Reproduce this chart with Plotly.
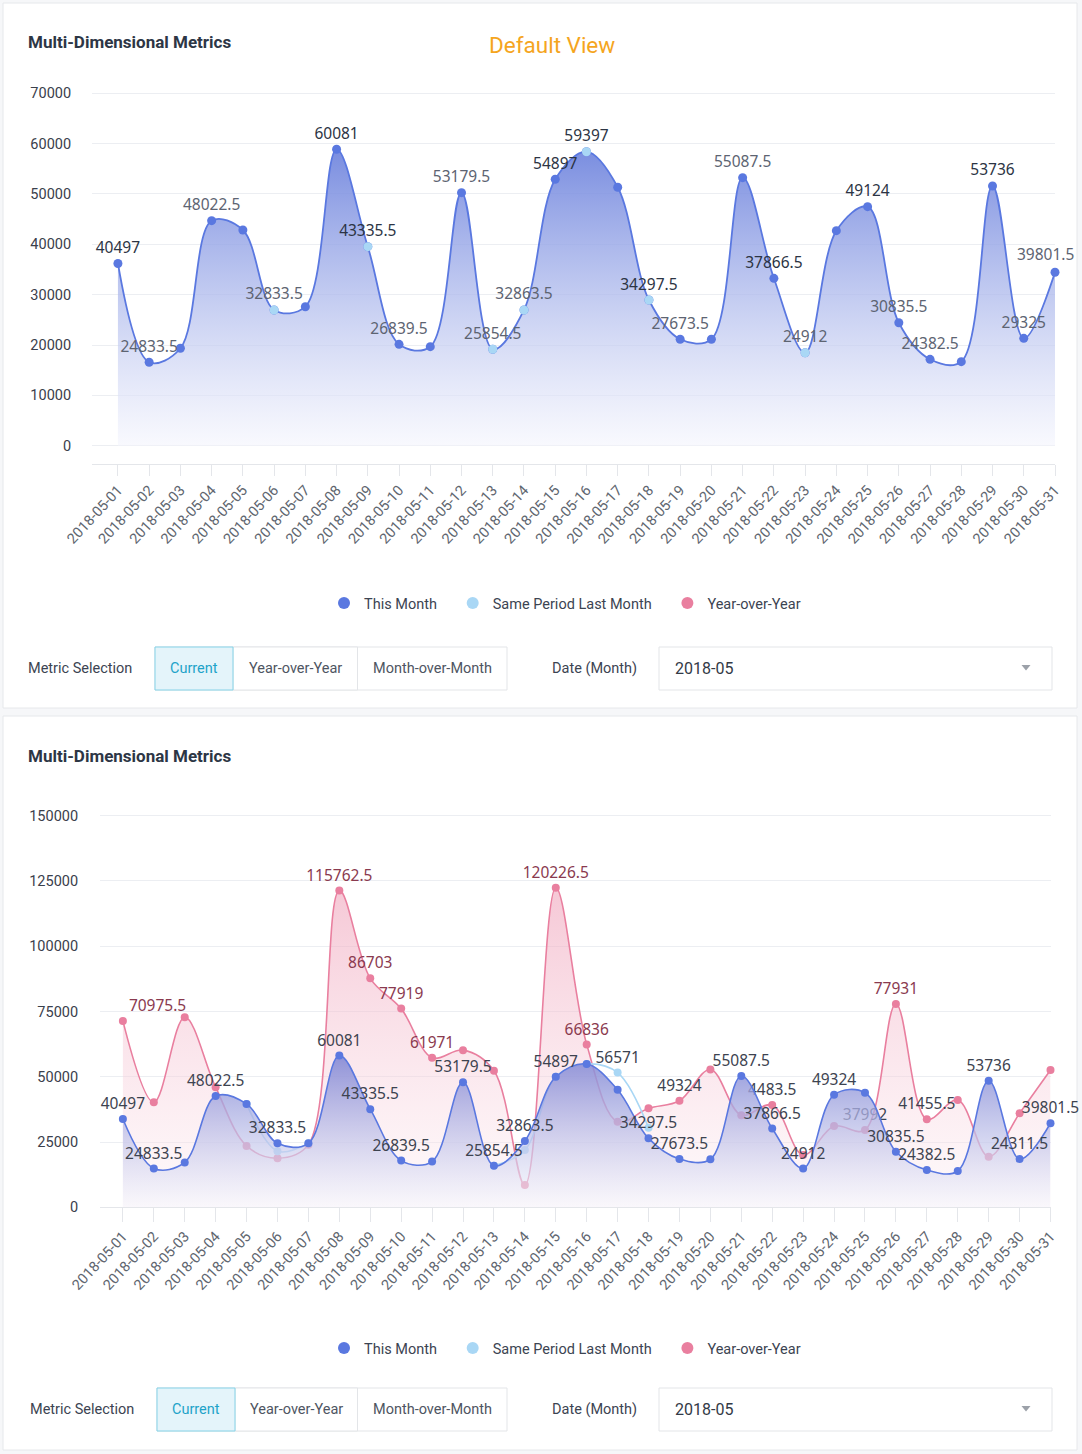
import plotly.graph_objects as go

W, H = 1082, 1454


def px(x):
    return x / W


def py(y):
    return 1 - y / H


dates = [
    "2018-05-01", "2018-05-02", "2018-05-03", "2018-05-04", "2018-05-05", "2018-05-06",
    "2018-05-07", "2018-05-08", "2018-05-09", "2018-05-10", "2018-05-11", "2018-05-12",
    "2018-05-13", "2018-05-14", "2018-05-15", "2018-05-16", "2018-05-17", "2018-05-18",
    "2018-05-19", "2018-05-20", "2018-05-21", "2018-05-22", "2018-05-23", "2018-05-24",
    "2018-05-25", "2018-05-26", "2018-05-27", "2018-05-28", "2018-05-29", "2018-05-30",
    "2018-05-31",
]

# --- Default view (top card) ---
this_month_top = [
    36200, 16570, 19350, 44700, 42850, 26960, 27610, 58880, 39530, 20140, 19670,
    50260, 19150, 26960, 52920, 58400, 51330, 28940, 21140, 21140, 53240, 33250,
    18470, 42710, 47480, 24430, 17160, 16690, 51590, 21330, 34450,
]
last_month_top = [
    None, None, None, None, None, 26960, None, None, 39530, None, None,
    None, 19150, 26960, None, 58400, None, 28940, None, None, None, None,
    18470, None, None, None, None, None, None, None, None,
]
labels_top = [
    "40497", "24833.5", "", "48022.5", "", "32833.5", "", "60081", "43335.5", "26839.5", "",
    "53179.5", "25854.5", "32863.5", "54897", "59397", "", "34297.5", "27673.5", "", "55087.5", "37866.5",
    "24912", "", "49124", "30835.5", "24382.5", "", "53736", "29325", "39801.5",
]

# --- Comparison view (bottom card) ---
this_month_bot = [
    33800, 14900, 17200, 42600, 39600, 24500, 24500, 58100, 37600, 17900, 17500,
    47900, 15900, 25400, 50000, 54900, 45000, 26400, 18500, 18400, 50300, 30200,
    14900, 43100, 43900, 21300, 14300, 13900, 48500, 18500, 32200,
]
last_month_bot = [
    None, None, None, None, 39600, 21500, 24500, None, None, None, None,
    None, 15900, 21900, 50000, 54900, 51600, 30500, None, None, None, None,
    None, None, None, None, None, None, None, None, None,
]
yoy_bot = [
    71400, 40200, 72800, 46000, 23500, 18800, 24000, 121300, 87700, 76100, 57300,
    60200, 52300, 8500, 122400, 62400, 32800, 37900, 40800, 52800, 35300, 39200,
    20000, 31100, 29600, 77900, 33700, 41100, 19400, 36000, 52600,
]
labels_bot = [
    "40497", "24833.5", "", "48022.5", "", "32833.5", "", "60081", "43335.5", "26839.5", "",
    "53179.5", "25854.5", "32863.5", "54897", "", "", "34297.5", "27673.5", "", "55087.5", "37866.5",
    "24912", "49324", "", "30835.5", "24382.5", "", "53736", "24311.5", "39801.5",
]
labels_last_bot = [
    "", "", "", "", "", "", "", "", "", "", "",
    "", "", "", "", "", "56571", "", "", "", "", "",
    "", "", "", "", "", "", "", "", "",
]
labels_yoy_bot = [
    "70975.5", "", "", "", "", "", "", "115762.5", "86703", "77919", "61971",
    "", "", "", "120226.5", "66836", "", "", "49324", "", "", "4483.5",
    "", "", "37992", "77931", "41455.5", "", "", "", "",
]
series_names = ["This Month", "Same Period Last Month", "Year-over-Year"]

BLUE = "#5a78e0"
LIGHT = "#a9d7f5"
PINK = "#e97f9f"
DARK_TXT = "#2c3444"
GREY_TXT = "#5d6472"
UI_FONT = "Roboto"
NUM_FONT = "Noto Sans"

strong_top = {"40497", "60081", "43335.5", "54897", "59397", "34297.5", "37866.5", "49124", "53736"}
red_yoy = {"70975.5", "115762.5", "120226.5", "66836", "77931", "86703", "77919", "61971"}

fig = go.Figure()

# top card traces (last label is drawn as an annotation so it is nudged inside the page)
fig.add_trace(go.Scatter(
    x=dates, y=this_month_top, mode="lines+markers+text", name=series_names[0],
    line=dict(color=BLUE, width=1.8, shape="spline", smoothing=1),
    marker=dict(color=BLUE, size=9),
    fill="tozeroy",
    fillgradient=dict(type="vertical", start=0, stop=60000,
                      colorscale=[[0, "rgba(244,245,253,0.6)"], [1, "rgba(106,128,220,0.92)"]]),
    text=labels_top[:-1] + [""], textposition="top center",
    textfont=dict(family=NUM_FONT, size=15.5,
                  color=[DARK_TXT if t in strong_top else GREY_TXT for t in labels_top]),
    showlegend=False, xaxis="x", yaxis="y", cliponaxis=False,
))
fig.add_trace(go.Scatter(
    x=dates, y=last_month_top, mode="markers", name=series_names[1],
    marker=dict(color=LIGHT, size=9), showlegend=False, xaxis="x", yaxis="y",
))

# bottom card traces
fig.add_trace(go.Scatter(
    x=dates, y=yoy_bot, mode="lines+markers+text", name=series_names[2],
    line=dict(color=PINK, width=1.6, shape="spline", smoothing=1),
    marker=dict(color=PINK, size=8),
    fill="tozeroy",
    fillgradient=dict(type="vertical", start=0, stop=120000,
                      colorscale=[[0, "rgba(252,238,242,0.35)"], [1, "rgba(240,165,188,0.6)"]]),
    text=labels_yoy_bot,
    textposition=["top right"] + ["top center"] * 30,
    textfont=dict(family=NUM_FONT, size=15.5,
                  color=["#8a3a4f" if t in red_yoy else "#3d4350" for t in labels_yoy_bot]),
    showlegend=False, xaxis="x2", yaxis="y2", cliponaxis=False,
))
fig.add_trace(go.Scatter(
    x=dates, y=last_month_bot, mode="lines+markers+text", name=series_names[1],
    line=dict(color=LIGHT, width=1.6, shape="spline", smoothing=1),
    marker=dict(color=LIGHT, size=8),
    text=labels_last_bot, textposition="top center",
    textfont=dict(family=NUM_FONT, size=15.5, color="#3d4350"),
    connectgaps=False, showlegend=False, xaxis="x2", yaxis="y2", cliponaxis=False,
))
fig.add_trace(go.Scatter(
    x=dates, y=this_month_bot, mode="lines+markers+text", name=series_names[0],
    line=dict(color=BLUE, width=1.6, shape="spline", smoothing=1),
    marker=dict(color=BLUE, size=8),
    fill="tozeroy",
    fillgradient=dict(type="vertical", start=0, stop=58000,
                      colorscale=[[0, "rgba(246,246,252,0.55)"], [1, "rgba(128,134,212,0.88)"]]),
    text=labels_bot, textposition="top center",
    textfont=dict(family=NUM_FONT, size=15.5, color="#3d4350"),
    showlegend=False, xaxis="x2", yaxis="y2", cliponaxis=False,
))

# legend-only entries (round dots like the original); trailing nbsp widens the gaps
pad = "\u00a0" * 3
for leg, xa, ya in (("legend", "x", "y"), ("legend2", "x2", "y2")):
    for i, (name, col) in enumerate(zip(series_names, (BLUE, LIGHT, PINK))):
        fig.add_trace(go.Scatter(
            x=[None], y=[None], mode="markers", name=name + (pad if i < 2 else ""),
            marker=dict(color=col, size=12), legend=leg, xaxis=xa, yaxis=ya,
        ))

# axis geometry (pixel -> domain)
top_scale = (445.7 - 93.3) / 70000
top_ymin = -(464 - 445.7) / top_scale
top_ymax = 70300
bot_scale = (1207.3 - 815.7) / 150000
bot_ymax = 151500

axis_x = dict(
    type="category", showgrid=False, showline=True, linecolor="#e4e6ea", linewidth=1,
    ticks="outside", tickcolor="#e4e6ea", tickangle=-47,
    tickfont=dict(family=UI_FONT, size=14.5, color="#60666f"), zeroline=False,
    fixedrange=True,
)
axis_y = dict(
    showgrid=True, gridcolor="#eceef2", gridwidth=1, zeroline=False, showline=False,
    tickformat="d", ticks="outside", tickcolor="rgba(0,0,0,0)",
    tickfont=dict(family=UI_FONT, size=14.5, color="#3a404c"), fixedrange=True,
)

fig.update_layout(
    width=W, height=H,
    margin=dict(l=0, r=0, t=0, b=0, autoexpand=False),
    paper_bgcolor="#f6f7f9", plot_bgcolor="rgba(0,0,0,0)",
    font=dict(family=UI_FONT, color="#3c4452"),
    xaxis=dict(axis_x, domain=[px(92), px(1055)], range=[-0.83, 30], anchor="y", ticklen=11),
    yaxis=dict(axis_y, domain=[py(464), py(445.7 - top_ymax * top_scale)],
               range=[top_ymin, top_ymax], tick0=0, dtick=10000, anchor="x", ticklen=17),
    xaxis2=dict(axis_x, domain=[px(100), px(1050.5)], range=[-0.74, 30], anchor="y2", ticklen=14),
    yaxis2=dict(axis_y, domain=[py(1207.3), py(1207.3 - bot_ymax * bot_scale)],
                range=[0, bot_ymax], tick0=0, dtick=25000, anchor="x2", ticklen=18),
    legend=dict(orientation="h", x=px(565), xanchor="center", y=py(603), yanchor="middle",
                font=dict(family=UI_FONT, size=14.5, color="#3c4452"), itemwidth=30,
                bgcolor="rgba(0,0,0,0)"),
    legend2=dict(orientation="h", x=px(565), xanchor="center", y=py(1348), yanchor="middle",
                 font=dict(family=UI_FONT, size=14.5, color="#3c4452"), itemwidth=30,
                 bgcolor="rgba(0,0,0,0)"),
)

shapes = []
annos = []


def rect(x0, y0, x1, y1, fill="white", line="#e6e8eb", width=1, layer="below"):
    shapes.append(dict(type="rect", xref="paper", yref="paper",
                       x0=px(x0), x1=px(x1), y0=py(y1), y1=py(y0),
                       fillcolor=fill, line=dict(color=line, width=width), layer=layer))


def text(x, y, s, size=14.5, color="#3c4452", anchor="left", bold=False):
    annos.append(dict(xref="paper", yref="paper", x=px(x), y=py(y), text=f"<b>{s}</b>" if bold else s,
                      showarrow=False, xanchor=anchor, yanchor="middle",
                      font=dict(family=UI_FONT, size=size, color=color)))


# last data label of the top view, pulled a little left so it stays on the page
annos.append(dict(xref="x", yref="y", x=dates[-1], y=this_month_top[-1], text=labels_top[-1],
                  showarrow=False, xanchor="center", yanchor="bottom", xshift=-10, yshift=5,
                  font=dict(family=NUM_FONT, size=15.5, color=GREY_TXT)))

# cards
rect(3, 3, 1077, 708)
rect(3, 716, 1077, 1450)

# titles
text(26, 42, "Multi-Dimensional Metrics", size=17, color="#2d3645", bold=True)
text(552, 45, "Default View", size=22.5, color="#f5a51e", anchor="center")
text(26, 756, "Multi-Dimensional Metrics", size=17, color="#2d3645", bold=True)

# control rows
for yc, lx, b0 in ((668, 26, 155), (1409, 28, 157)):
    top, bot = yc - 21, yc + 22
    text(lx, yc, "Metric Selection")
    rect(b0, top, 507, bot, fill="white", line="#e3e5e8", layer="above")
    rect(b0 + 78, top, 357.5, bot, fill="white", line="#e3e5e8", layer="above")
    rect(b0, top, b0 + 78, bot, fill="#e4f4fa", line="#86d3e8", layer="above")
    text(b0 + 39, yc, "Current", color="#1ea3c9", anchor="center")
    text((b0 + 78 + 357.5) / 2, yc, "Year-over-Year", color="#4e5562", anchor="center")
    text(432.5, yc, "Month-over-Month", color="#4e5562", anchor="center")
    text(594, yc, "Date (Month)", anchor="center")
    rect(659, top, 1052, bot, fill="white", line="#e3e5e8", layer="above")
    text(673, yc, "2018-05", size=16, color="#333a46")
    shapes.append(dict(type="path", xref="paper", yref="paper", layer="above",
                       path=f"M {px(1021.5)} {py(yc - 3)} L {px(1030.5)} {py(yc - 3)} L {px(1026)} {py(yc + 2.5)} Z",
                       fillcolor="#9ca1a9", line=dict(width=0)))

fig.update_layout(shapes=shapes, annotations=annos)

fig.write_html("out.html", config={"displayModeBar": False},
               post_script="document.body.style.margin='0';document.body.style.overflow='hidden';")
